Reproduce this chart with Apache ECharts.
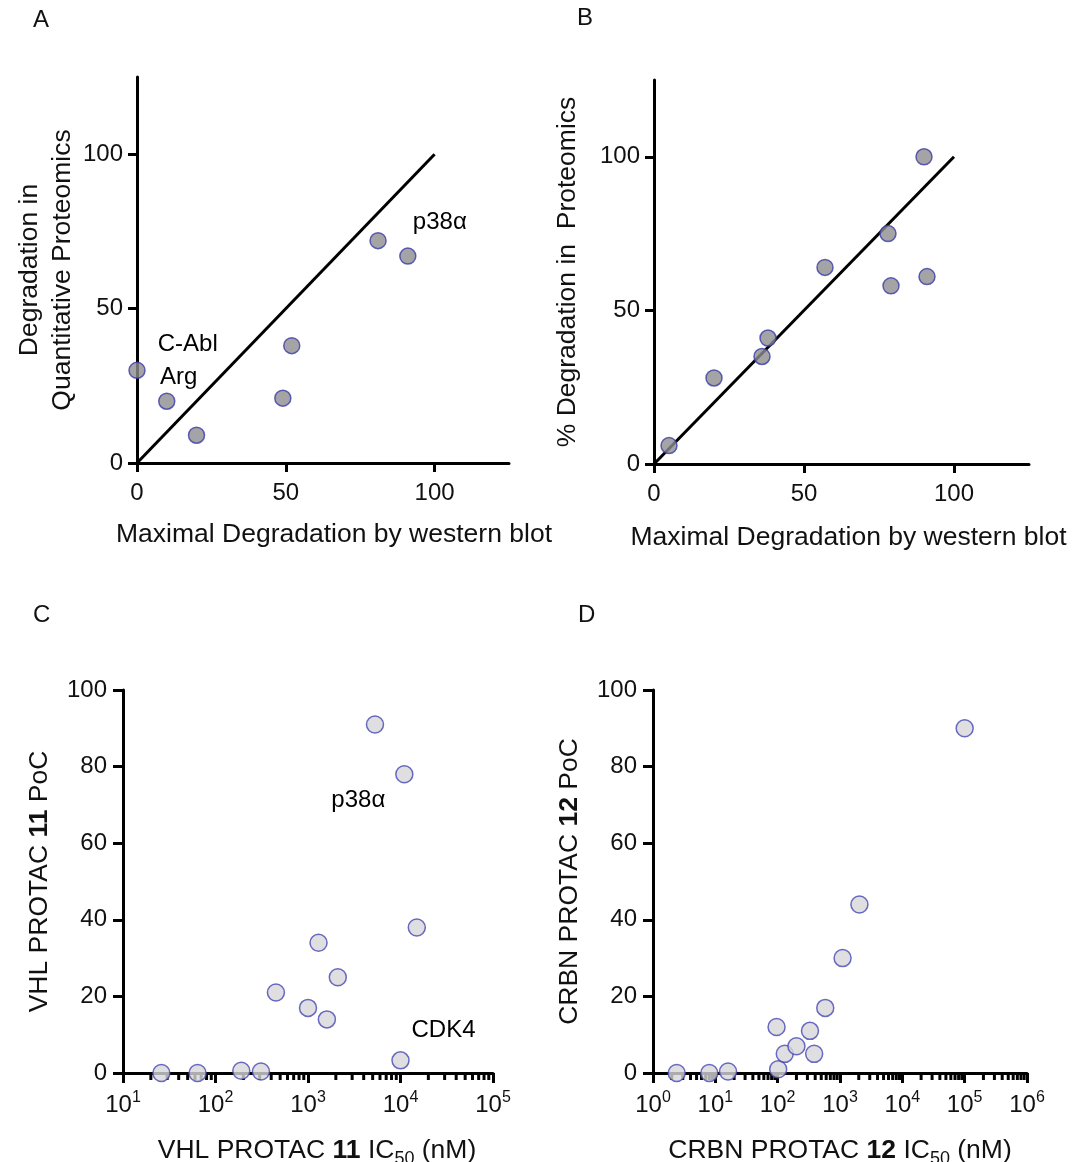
<!DOCTYPE html>
<html>
<head>
<meta charset="utf-8">
<script src="https://cdn.jsdelivr.net/npm/echarts@6/dist/echarts.min.js"></script>
<style>
  html, body { margin: 0; padding: 0; background: #fff; }
  #chart { width: 1075px; height: 1162px; }
</style>
</head>
<body>
<div id="chart"></div>
<script>
// A: maximal degradation (western blot) vs degradation in quantitative proteomics
const wbA   = [0, 10, 20, 49, 52, 81, 91];
const protA = [30, 20, 9, 21, 38, 72, 67];
const namesA = { 0: 'C-Abl', 1: 'Arg', 6: 'p38α' };

// B: maximal degradation (western blot) vs % degradation in proteomics
const wbB   = [5, 20, 36, 38, 57, 78, 79, 90, 91];
const protB = [6, 28, 35, 41, 64, 75, 58, 100, 61];

// C: VHL PROTAC 11 IC50 (nM) vs PoC
const ic50C = [26, 64, 190, 310, 450, 1000, 1300, 1600, 2100, 5300, 11000, 15000, 10000];
const pocC  = [0, 0, 0.6, 0.4, 21, 17, 34, 14, 25, 91, 78, 38, 3.3];
const namesC = { 10: 'p38α', 12: 'CDK4' };

// D: CRBN PROTAC 12 IC50 (nM) vs PoC
const ic50D = [2.4, 8, 16, 96, 102, 130, 200, 330, 385, 580, 1100, 2050, 100000];
const pocD  = [0, 0, 0.4, 12, 1, 5, 7, 11, 5, 17, 30, 44, 90];

// identity line and tick values
const identity = [0, 100];
const linTicks = [0, 50, 100];
const decadesC = [10, 100, 1000, 10000, 100000];
const decadesD = [1, 10, 100, 1000, 10000, 100000, 1000000];

const FONT = '"Liberation Sans", Arial, Helvetica, sans-serif';
const INK = '#111';

const chart = echarts.init(document.getElementById('chart'), null, { renderer: 'canvas' });

function pairs(xs, ys) { return xs.map((x, i) => [x, ys[i]]); }

// minor log ticks between decades (2..9 × 10^k)
function minorLogTicks(decades) {
  const out = [];
  for (let k = 0; k < decades.length - 1; k++) {
    for (let m = 2; m <= 9; m++) out.push([m * decades[k], 0]);
  }
  return out;
}

function powLabel(v) {
  const e = Math.round(Math.log10(v));
  return '{b|10}{s|' + e + '}';
}

const tickLabelStyle = { fontFamily: FONT, fontSize: 24, color: INK };
const axisLine = { show: true, onZero: false, lineStyle: { color: '#000', width: 3 } };
const axisTick = (len) => ({ show: true, inside: false, length: len, lineStyle: { color: '#000', width: 3 } });
const nameStyle = { fontFamily: FONT, fontSize: 26.5, color: INK, lineHeight: 33 };

function linAxis(gridIndex, extra) {
  return Object.assign({
    type: 'value', gridIndex, min: 0, max: 125,
    axisLine, splitLine: { show: false },
    axisTick: Object.assign(axisTick(9), { customValues: linTicks }),
    axisLabel: Object.assign({}, tickLabelStyle, { customValues: linTicks }),
    nameLocation: 'middle', nameTextStyle: nameStyle
  }, extra);
}

function pocAxis(gridIndex, name, gap) {
  return {
    type: 'value', gridIndex, min: 0, max: 100, interval: 20,
    axisLine, splitLine: { show: false },
    axisTick: axisTick(10),
    axisLabel: Object.assign({}, tickLabelStyle, { margin: 16 }),
    name, nameLocation: 'middle', nameGap: gap,
    nameTextStyle: Object.assign({}, nameStyle, {
      rich: {
        t: { fontFamily: FONT, fontSize: 26.5, color: INK },
        bd: { fontFamily: FONT, fontSize: 26.5, color: INK, fontWeight: 'bold' }
      }
    })
  };
}

function logAxis(gridIndex, min, max, decades, name, shift) {
  return {
    type: 'log', logBase: 10, gridIndex, min, max,
    axisLine, splitLine: { show: false },
    axisTick: Object.assign(axisTick(10), { customValues: decades }),
    axisLabel: {
      customValues: decades, margin: 17, formatter: powLabel,
      rich: {
        b: { fontFamily: FONT, fontSize: 24, color: INK, lineHeight: 30 },
        s: { fontFamily: FONT, fontSize: 16, color: INK, verticalAlign: 'top', lineHeight: 30 }
      }
    },
    name, nameLocation: 'middle', nameGap: 61,
    nameTextStyle: {
      fontFamily: FONT, fontSize: 26.5, color: INK, lineHeight: 34,
      padding: [0, 0, 0, shift],
      rich: {
        t: { fontFamily: FONT, fontSize: 26.5, color: INK, lineHeight: 34 },
        bd: { fontFamily: FONT, fontSize: 26.5, color: INK, fontWeight: 'bold', lineHeight: 34 },
        sub: { fontFamily: FONT, fontSize: 18, color: INK, verticalAlign: 'bottom', lineHeight: 34 }
      }
    }
  };
}

const darkDot = { color: '#8d8d91', borderColor: '#3b3ba6', borderWidth: 1.5 };
const lightDot = { color: '#d7d7d9', borderColor: '#4646b4', borderWidth: 1.5 };
const annStyle = {
  show: true, fontFamily: FONT, fontSize: 24, color: '#000',
  opacity: 1, textBorderWidth: 0
};

// label placement for annotated points
const annPlaceA = {
  0: { position: 'right', offset: [7, -26] },
  1: { position: 'top', offset: [12, 2] },
  6: { position: 'top', offset: [32, -8] }
};
const annPlaceC = {
  10: { position: 'bottom', offset: [-46, 0] },
  12: { position: 'top', offset: [43, -4] }
};

function withLabels(points, names, place) {
  return points.map((p, i) => names[i] !== undefined
    ? { value: p, label: Object.assign({}, annStyle, place[i], { formatter: names[i] }) }
    : p);
}

function minorTickSeries(xAxisIndex, yAxisIndex, decades) {
  return {
    type: 'custom', xAxisIndex, yAxisIndex, silent: true, clip: false, z: 1,
    data: minorLogTicks(decades),
    encode: { x: 0, y: 1 },
    renderItem: (params, api) => {
      const p = api.coord([api.value(0), 0]);
      return {
        type: 'line',
        shape: { x1: p[0], y1: p[1], x2: p[0], y2: p[1] + 7 },
        style: { stroke: '#000', lineWidth: 3 }
      };
    }
  };
}

const letter = (text, left, top) => ({
  type: 'text', left, top, style: { text, fontFamily: FONT, fontSize: 24, fill: INK }
});

const scatterLabel = { show: false, color: '#000', fontFamily: FONT, fontSize: 24 };

const option = {
  backgroundColor: '#fff',
  animation: false,
  textStyle: { fontFamily: FONT },
  grid: [
    { left: 137, top: 77, width: 372, height: 386, outerBoundsMode: 'none' },
    { left: 654, top: 80, width: 375, height: 384, outerBoundsMode: 'none' },
    { left: 123, top: 690, width: 370, height: 383, outerBoundsMode: 'none' },
    { left: 653, top: 690, width: 374, height: 383, outerBoundsMode: 'none' }
  ],
  xAxis: [
    linAxis(0, { name: 'Maximal Degradation by western blot', nameGap: 55,
      axisLabel: Object.assign({}, tickLabelStyle, { customValues: linTicks, margin: 18 }),
      nameTextStyle: Object.assign({}, nameStyle, { padding: [0, 0, 0, 22] }) }),
    linAxis(1, { name: 'Maximal Degradation by western blot', nameGap: 57,
      axisLabel: Object.assign({}, tickLabelStyle, { customValues: linTicks, margin: 18 }),
      nameTextStyle: Object.assign({}, nameStyle, { padding: [0, 0, 0, 14] }) }),
    logAxis(2, 10, 100000, decadesC, '{t|VHL PROTAC }{bd|11}{t| IC}{sub|50}{t| (nM)}', 18),
    logAxis(3, 1, 1000000, decadesD, '{t|CRBN PROTAC }{bd|12}{t| IC}{sub|50}{t| (nM)}', 0)
  ],
  yAxis: [
    linAxis(0, { name: 'Degradation in\nQuantitative Proteomics', nameGap: 56,
      axisLabel: Object.assign({}, tickLabelStyle, { customValues: linTicks, margin: 14 }) }),
    linAxis(1, { name: '% Degradation in  Proteomics', nameGap: 70,
      axisLabel: Object.assign({}, tickLabelStyle, { customValues: linTicks, margin: 14 }) }),
    pocAxis(2, '{t|VHL PROTAC }{bd|11}{t| PoC}', 67),
    pocAxis(3, '{t|CRBN PROTAC }{bd|12}{t| PoC}', 67)
  ],
  graphic: [
    letter('A', 33, 8),
    letter('B', 577, 6),
    letter('C', 33, 603),
    letter('D', 578, 603)
  ],
  series: [
    { type: 'line', xAxisIndex: 0, yAxisIndex: 0, data: pairs(identity, identity),
      symbol: 'none', silent: true, lineStyle: { color: '#000', width: 3 }, z: 2 },
    { type: 'scatter', xAxisIndex: 0, yAxisIndex: 0, clip: false, symbolSize: 16,
      itemStyle: darkDot, z: 3, label: scatterLabel,
      data: withLabels(pairs(wbA, protA), namesA, annPlaceA) },

    { type: 'line', xAxisIndex: 1, yAxisIndex: 1, data: pairs(identity, identity),
      symbol: 'none', silent: true, lineStyle: { color: '#000', width: 3 }, z: 2 },
    { type: 'scatter', xAxisIndex: 1, yAxisIndex: 1, clip: false, symbolSize: 16,
      itemStyle: darkDot, z: 3, data: pairs(wbB, protB) },

    minorTickSeries(2, 2, decadesC),
    { type: 'scatter', xAxisIndex: 2, yAxisIndex: 2, clip: false, symbolSize: 17,
      itemStyle: lightDot, z: 3, label: scatterLabel,
      data: withLabels(pairs(ic50C, pocC), namesC, annPlaceC) },

    minorTickSeries(3, 3, decadesD),
    { type: 'scatter', xAxisIndex: 3, yAxisIndex: 3, clip: false, symbolSize: 17,
      itemStyle: lightDot, z: 3, data: pairs(ic50D, pocD) }
  ]
};

chart.setOption(option);
</script>
</body>
</html>
